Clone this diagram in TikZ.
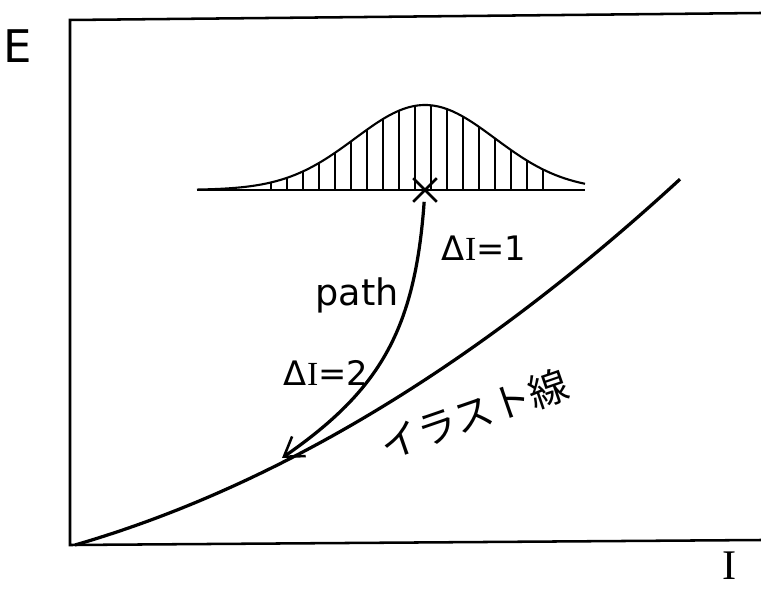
\documentclass[tikz,border=0pt]{standalone}
\usepackage{fontspec}
\setmainfont{DejaVu Sans}
\newfontfamily\serifI{Liberation Serif}
\newfontfamily\jpfont{Noto Sans CJK JP}
\usepackage{tikz}
\usetikzlibrary{arrows.meta,shapes.misc}

\begin{document}
\begin{tikzpicture}[
  x=0.025cm, y=-0.025cm,
  axisline/.style={line width=1.8pt},
  curveline/.style={line width=2.3pt},
  hatchline/.style={line width=1.1pt},
  lbl/.style={inner sep=0pt, font=\fontsize{24}{26}\selectfont},
  declare function={gy(\x)=190-85*exp(-0.5*((\x-425)/70)^2);},
]
\useasboundingbox (0,0) rectangle (761,590);

% frame of the plot
\draw[axisline] (761,13) -- (70,20) -- (70,545) -- (761,540);
\node[lbl, font=\fontsize{32}{34}\selectfont] (elabel) at (18,46) {E};
\node[lbl, font=\serifI\fontsize{30}{32}\selectfont] (ilabel) at (730,566) {I};

% distribution with hatching
\draw[axisline] (197,190) -- (585,190);
\draw[line width=1.5pt] plot[domain=197:585, samples=80] (\x,{gy(\x)});
\foreach \x in {271,287,303,...,543}
  \draw[hatchline] (\x,190) -- (\x,{gy(\x)});
\node[cross out, draw, line width=1.8pt, minimum size=15pt, inner sep=0pt] (peak) at (425,190) {};

% the line
\draw[curveline] plot[domain=0:605, samples=60] ({75+\x},{545-0.29*\x-5.2*(\x/100)^2});
\node[lbl, font=\jpfont\fontsize{28}{30}\selectfont, rotate=19] (jplabel) at (474,414) {イラスト線};

% path down to the line
\coordinate (land) at (282,458);
\draw[curveline, -{Straight Barb[length=13pt,width=17pt,line width=1.8pt]}]
  (peak) .. controls (415,330) and (380,390) .. (land);
\node[lbl] (dI1) at (484,248) {Δ{\serifI I}=1};
\node[lbl, font=\fontsize{26}{28}\selectfont] (pathlbl) at (357,295) {path};
\node[lbl] (dI2) at (326,373) {Δ{\serifI I}=2};

\end{tikzpicture}
\end{document}
